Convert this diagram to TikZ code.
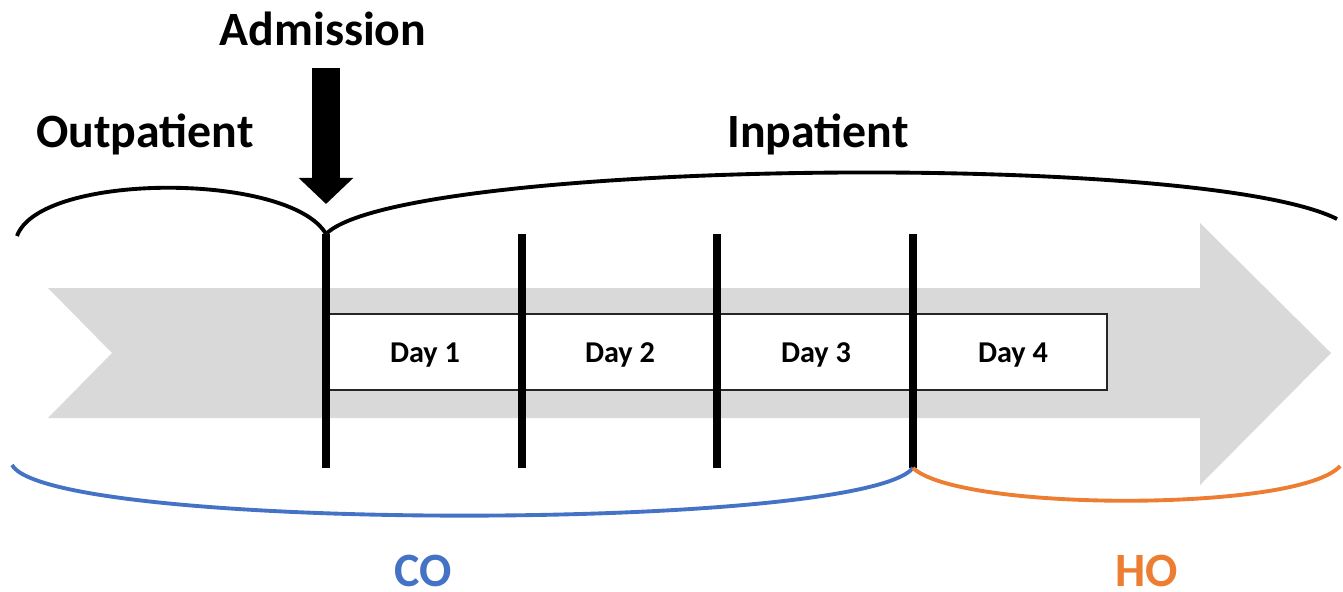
\documentclass[tikz,border=0pt]{standalone}
\usepackage{fontspec}
\setmainfont{Carlito}
\usetikzlibrary{arrows.meta}
\definecolor{coblue}{HTML}{4472C4}
\definecolor{hoorange}{HTML}{ED7D31}
\definecolor{bandgrey}{HTML}{D9D9D9}
\tikzset{
  biglabel/.style={font=\fontsize{13.6}{16}\selectfont\bfseries,anchor=base,inner sep=0pt},
  daylabel/.style={font=\fontsize{8.6}{10}\selectfont\bfseries},
  daytick/.style={line width=2.3pt},
  brace/.style={line width=1.1pt}
}
\begin{document}
\begin{tikzpicture}[x=0.01cm,y=-0.01cm]
\useasboundingbox (0,0) rectangle (1343,591);
% grey arrow of time
\fill[bandgrey] (48,288) -- (1200,288) -- (1200,223) -- (1331,353) -- (1200,485)
  -- (1200,418) -- (48,418) -- (112,353) -- cycle;
% the days
\draw[line width=0.6pt,draw=black!85,fill=white] (326,314) rectangle (1107,390);
\node[daylabel] (day1) at (425,355) {Day 1};
\node[daylabel] (day2) at (620,355) {Day 2};
\node[daylabel] (day3) at (816,355) {Day 3};
\node[daylabel] (day4) at (1013,355) {Day 4};
\foreach \x/\n in {326/a,522/b,717/c,913/d} {
  \coordinate (top\n) at (\x,234);
  \coordinate (bot\n) at (\x,468);
  \draw[daytick] (top\n) -- (bot\n);
}
% braces
\coordinate (outl) at (17,236);
\coordinate (inr) at (1337,219);
\coordinate (col) at (12,465);
\coordinate (hor) at (1340,466);
\draw[brace] (outl) .. controls (40,172) and (290,172) .. (topa);
\draw[brace] (topa) .. controls (400,160) and (1200,150) .. (inr);
\draw[brace,coblue] (col) .. controls (50,532) and (860,532) .. (botd);
\draw[brace,hoorange] (botd) .. controls (960,512) and (1300,512) .. (hor);
% admission
\node[biglabel] (adm) at (323,46) {Admission};
\coordinate (admtop) at (326,68);
\coordinate (admtip) at (326,204);
\draw[line width=7.7pt,-{Triangle[width=0.53cm,length=0.26cm]}] (admtop) -- (admtip);
\node[biglabel] (outp) at (145,148) {Outpatient};
\node[biglabel] (inp) at (818,148) {Inpatient};
\node[biglabel,text=coblue] (co) at (423,586) {CO};
\node[biglabel,text=hoorange] (ho) at (1147,586) {HO};
\end{tikzpicture}
\end{document}
